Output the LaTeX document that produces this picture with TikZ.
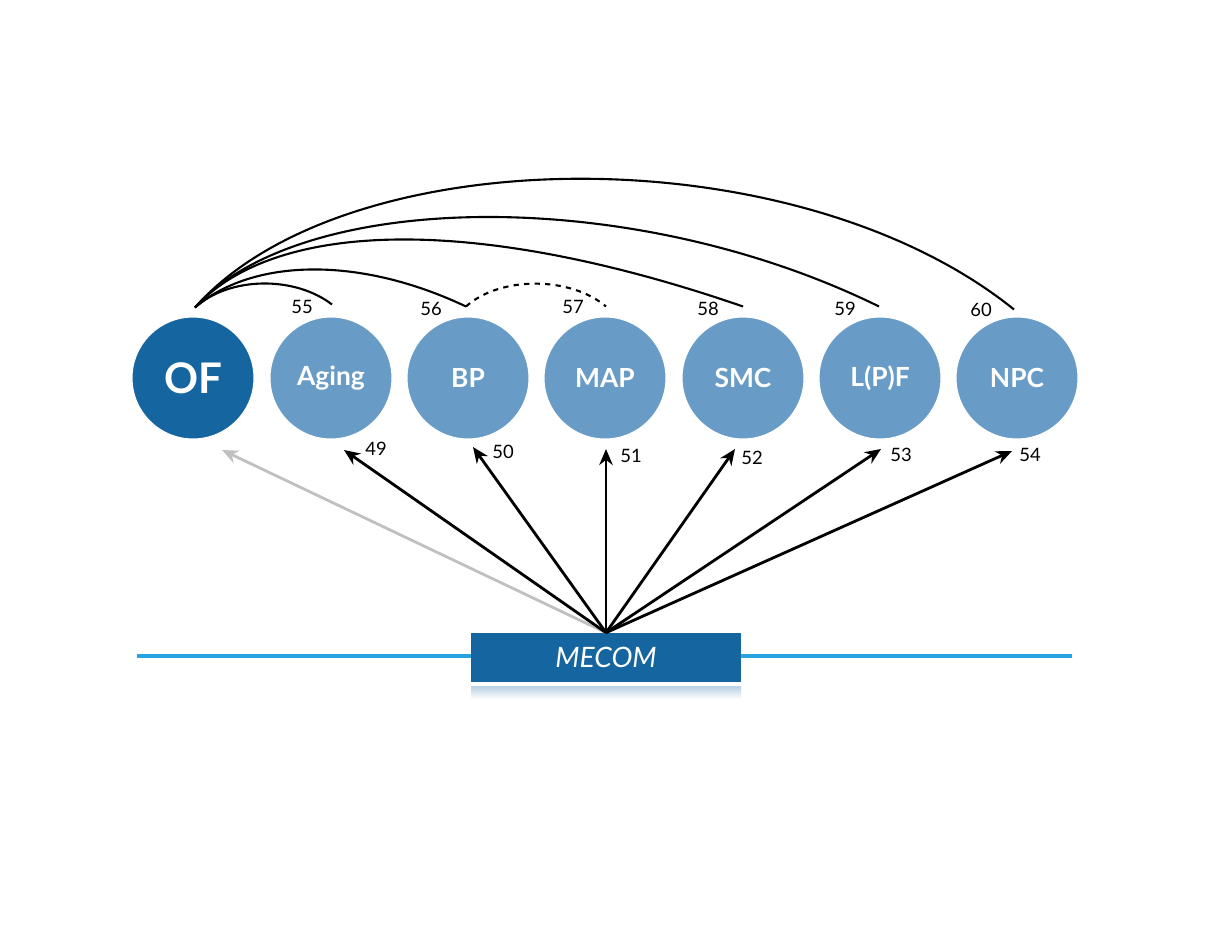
\documentclass[tikz,border=0pt]{standalone}
\usepackage{fontspec}
\setmainfont{Lato}
\usetikzlibrary{arrows, arrows.meta}
\usetikzlibrary{calc}

\definecolor{ofblue}{RGB}{21,101,160}
\definecolor{nodeblue}{RGB}{104,155,197}
\definecolor{lineblue}{RGB}{40,165,225}
\definecolor{arrgray}{RGB}{192,192,192}

\begin{document}
\begin{tikzpicture}[x=0.02cm, y=-0.02cm,
    trait/.style={circle, fill=nodeblue, draw=white, line width=0.6pt, minimum size=2.44cm, inner sep=0pt, text=white, font=\fontsize{15}{18}\selectfont\bfseries},
    num/.style={font=\fontsize{10.5}{12}\selectfont, inner sep=1pt},
    assoc/.style={-{Stealth[length=3.2mm, width=2.7mm]}, line width=1.6pt},
    link/.style={line width=1.2pt}]
    \useasboundingbox (0,0) rectangle (1220,937);

    % traits
    \node[trait, fill=ofblue, font=\fontsize{24}{26}\selectfont\bfseries] (of) at (193,378) {OF};
    \foreach \x/\n/\t in {331/ag/Aging, 468/bp/BP, 605/map/MAP, 743/smc/SMC, 880/lpf/L(P)F, 1017/npc/NPC} {
      \node[trait] (\n) at (\x,378) {\t};
    }

    % gene
    \draw[lineblue, line width=2.2pt] (137,656) -- (1072,656);
    \shade[top color=ofblue!30, bottom color=white] (471,686) rectangle (741,699);
    \node[fill=ofblue, minimum width=5.4cm, minimum height=0.98cm, inner sep=0pt, text=white, font=\fontsize{16}{18}\selectfont\itshape] (mecom) at (606,657.5) {MECOM};

    % arrow tips
    \coordinate (t-of) at (222,450);
    \coordinate (t-ag) at (344,450);
    \coordinate (t-bp) at (473,447);
    \coordinate (t-map) at (606,449);
    \coordinate (t-smc) at (735,449);
    \coordinate (t-lpf) at (881,449);
    \coordinate (t-npc) at (1012,451);
    \draw[assoc, arrgray] (mecom.north) -- (t-of);
    \foreach \n in {ag,bp,map,smc,lpf,npc} {
      \draw[assoc] (mecom.north) -- (t-\n);
    }
    \foreach \n/\x/\y in {49/376/449, 50/503/452, 51/631/456, 52/752/458, 53/901/455, 54/1030/455} {
      \node[num] (n\n) at (\x,\y) {\n};
    }

    % arcs between traits
    \coordinate (s) at ($(of.north)+(2,-9)$);
    \coordinate (e-ag) at ($(ag.north)+(1,-12)$);
    \coordinate (e-bp) at ($(bp.north)+(-2,-10)$);
    \coordinate (e-map) at ($(map.north)+(1,-10)$);
    \coordinate (e-smc) at ($(smc.north)+(0,-10)$);
    \coordinate (e-lpf) at ($(lpf.north)+(-1,-10)$);
    \coordinate (e-npc) at ($(npc.north)+(-3,-7)$);
    \draw[link] (s) .. controls (230,276) and (295,276) .. (e-ag);
    \draw[link] (s) .. controls (250,260) and (355,254) .. (e-bp);
    \draw[link] (s) .. controls (275,220) and (475,214) .. (e-smc);
    \draw[link] (s) .. controls (300,190) and (630,184) .. (e-lpf);
    \draw[link] (s) .. controls (345,138) and (795,133) .. (e-npc);
    \draw[link, dashed, dash pattern=on 3pt off 3pt] (e-bp) .. controls (500,276) and (570,276) .. (e-map);
    \foreach \n/\x/\y in {55/302/307, 56/431/309, 57/573/307, 58/708/309, 59/845/309, 60/981/310} {
      \node[num] (n\n) at (\x,\y) {\n};
    }
  \end{tikzpicture}
\end{document}
